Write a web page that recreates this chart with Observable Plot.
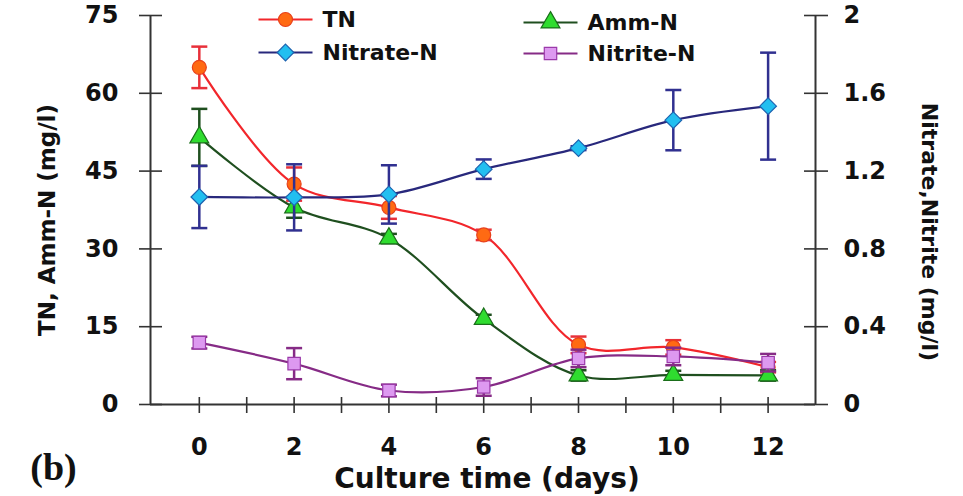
<!DOCTYPE html>
<html>
<head>
<meta charset="utf-8">
<script src="https://cdn.jsdelivr.net/npm/d3@7"></script>
<script src="https://cdn.jsdelivr.net/npm/@observablehq/plot@0.6"></script>
<style>
  html, body { margin: 0; padding: 0; background: #fff; }
  #chart { width: 963px; height: 496px; }
</style>
</head>
<body>
<div id="chart"></div>
<script>
// ---- data ----
const days = [0, 2, 4, 6, 8, 10, 12];
const tn = [65, 42.5, 38, 32.7, 11.5, 11, 7.2];
const tnErr = [4, 3.2, 2.2, 1, 1.6, 1.4, 1];
const amm = [51.5, 38, 32, 16.5, 5.6, 5.7, 5.6];
const ammErr = [5.5, 2, 0.9, 0.8, 1, 0.8, 1];
const nitrate = [1.067, 1.065, 1.08, 1.21, 1.318, 1.462, 1.534];
const nitrateErr = [0.16, 0.17, 0.15, 0.05, 0.01, 0.155, 0.275];
const nitrite = [0.318, 0.21, 0.072, 0.09, 0.237, 0.247, 0.215];
const nitriteErr = [0.03, 0.08, 0.03, 0.045, 0.045, 0.045, 0.045];

const leftTicks = [0, 15, 30, 45, 60, 75];
const rightTicks = [0, 0.4, 0.8, 1.2, 1.6, 2];
const rightTickLabels = ["0", "0.4", "0.8", "1.2", "1.6", "2"];
const xMinorTicks = [0, 1, 2, 3, 4, 5, 6, 7, 8, 9, 10, 11, 12];
const xTickLabels = [0, 2, 4, 6, 8, 10, 12];

const seriesNames = ["TN", "Amm-N", "Nitrate-N", "Nitrite-N"];
const leftMax = 75, rightMax = 2;
const k = leftMax / rightMax; // right axis -> left axis units

// ---- styles ----
const styles = {
  "TN":        {line: "#f2262b", fill: "#ff6a13", stroke: "#e8401a", err: "#e8303a", symbol: "circle", r: 7},
  "Amm-N":     {line: "#1f4f1f", fill: "#2fdc2f", stroke: "#1a6e1a", err: "#1f4f1f", symbol: "triangle", r: 7},
  "Nitrate-N": {line: "#28287c", fill: "#22bff0", stroke: "#1d63b0", err: "#303090", symbol: "diamond2", r: 7.5},
  "Nitrite-N": {line: "#862b86", fill: "#dd99f0", stroke: "#9b3aaa", err: "#862b86", symbol: "square", r: 7}
};

function build(name, vals, errs, scale) {
  return days.map((d, i) => ({
    series: name, day: d,
    v: vals[i] * scale,
    lo: (vals[i] - errs[i]) * scale,
    hi: (vals[i] + errs[i]) * scale
  }));
}
const rows = {
  "TN": build("TN", tn, tnErr, 1),
  "Amm-N": build("Amm-N", amm, ammErr, 1),
  "Nitrate-N": build("Nitrate-N", nitrate, nitrateErr, k),
  "Nitrite-N": build("Nitrite-N", nitrite, nitriteErr, k)
};

const capSymbol = {draw(ctx) { ctx.moveTo(-8, 0); ctx.lineTo(8, 0); }};
const legendLine = {draw(ctx) { ctx.moveTo(-27, 0); ctx.lineTo(27, 0); }};

const font = "DejaVu Sans";
const axisColor = "#333";

const marks = [];

// axis lines
marks.push(Plot.ruleX([-1.03], {y1: 0, y2: leftMax, stroke: axisColor, strokeWidth: 2}));
marks.push(Plot.ruleX([13], {y1: 0, y2: leftMax, stroke: axisColor, strokeWidth: 2}));
marks.push(Plot.ruleY([0], {x1: -1.03, x2: 13, stroke: axisColor, strokeWidth: 2}));

// left axis: crossing ticks + labels
marks.push(Plot.axisY(leftTicks, {anchor: "left", tickSize: 23, dx: 12, tickFormat: () => "", label: null, stroke: axisColor, strokeWidth: 1.6}));
marks.push(Plot.axisY(leftTicks, {anchor: "left", tickSize: 0, tickPadding: 32, label: null, fontSize: 24, fontWeight: "bold", fill: "#111"}));

// right axis
marks.push(Plot.axisY(rightTicks.map(v => v * k), {anchor: "right", tickSize: 24, dx: -12, tickFormat: () => "", label: null, stroke: axisColor, strokeWidth: 1.6}));
marks.push(Plot.axisY(rightTicks.map(v => v * k), {anchor: "right", tickSize: 0, tickPadding: 28, label: null, tickFormat: (d, i) => rightTickLabels[i], fontSize: 24, fontWeight: "bold", fill: "#111"}));

// x axis
marks.push(Plot.axisX(xMinorTicks, {anchor: "bottom", tickSize: 16, dy: -7, tickFormat: () => "", label: null, stroke: axisColor, strokeWidth: 1.6}));
marks.push(Plot.axisX(xTickLabels, {anchor: "bottom", tickSize: 0, tickPadding: 33, label: null, fontSize: 24, fontWeight: "bold", fill: "#111"}));

// series
for (const name of seriesNames) {
  const s = styles[name];
  const data = rows[name];
  marks.push(Plot.line(data, {x: "day", y: "v", stroke: s.line, strokeWidth: 2.2, curve: "catmull-rom"}));
  marks.push(Plot.ruleX(data, {x: "day", y1: "lo", y2: "hi", stroke: s.err, strokeWidth: 2.5}));
  marks.push(Plot.dot(data, {x: "day", y: "lo", symbol: capSymbol, stroke: s.err, strokeWidth: 2.5, fill: "none"}));
  marks.push(Plot.dot(data, {x: "day", y: "hi", symbol: capSymbol, stroke: s.err, strokeWidth: 2.5, fill: "none"}));
  marks.push(Plot.dot(data, {x: "day", y: "v", symbol: s.symbol, r: s.r, fill: s.fill, stroke: s.stroke, strokeWidth: 1.2}));
}

// legend (inside the frame, top)
const legendPos = {
  "TN":        {dx: 135, dy: 4},
  "Amm-N":     {dx: 400, dy: 7},
  "Nitrate-N": {dx: 135, dy: 37},
  "Nitrite-N": {dx: 400, dy: 38}
};
for (const name of seriesNames) {
  const s = styles[name], p = legendPos[name];
  marks.push(Plot.dot([name], {frameAnchor: "top-left", dx: p.dx, dy: p.dy, symbol: legendLine, stroke: s.line, strokeWidth: 2.2, fill: "none"}));
  marks.push(Plot.dot([name], {frameAnchor: "top-left", dx: p.dx, dy: p.dy, symbol: s.symbol, r: s.r, fill: s.fill, stroke: s.stroke, strokeWidth: 1.2}));
  marks.push(Plot.text([name], {frameAnchor: "top-left", dx: p.dx + 37, dy: p.dy, textAnchor: "start", lineAnchor: "middle", fontSize: 22, fontWeight: "bold", fill: "#111"}));
}

// titles
marks.push(Plot.text(["TN, Amm-N (mg/l)"], {frameAnchor: "left", dx: -103, dy: 10, rotate: -90, textAnchor: "middle", lineAnchor: "middle", fontSize: 23, fontWeight: "bold", fill: "#111"}));
marks.push(Plot.text(["Nitrate,Nitrite (mg/l)"], {frameAnchor: "right", dx: 114, dy: 22, rotate: 90, textAnchor: "middle", lineAnchor: "middle", fontSize: 22, fontWeight: "bold", fill: "#111"}));
marks.push(Plot.text(["Culture time (days)"], {frameAnchor: "bottom", dx: 4, dy: 75, textAnchor: "middle", lineAnchor: "middle", fontSize: 28, fontWeight: "bold", fill: "#111"}));
marks.push(Plot.text(["(b)"], {frameAnchor: "bottom-left", dx: -97, dy: 63, textAnchor: "middle", lineAnchor: "middle", fontSize: 38, fontWeight: "bold", fontFamily: "Liberation Serif", fill: "#111"}));

const chart = Plot.plot({
  width: 963,
  height: 496,
  marginLeft: 150,
  marginRight: 148,
  marginTop: 15,
  marginBottom: 92,
  x: {domain: [-1.03, 13]},
  y: {domain: [0, leftMax]},
  style: {fontFamily: font, background: "#fff", overflow: "visible"},
  marks
});
document.getElementById("chart").appendChild(chart);
</script>
</body>
</html>
